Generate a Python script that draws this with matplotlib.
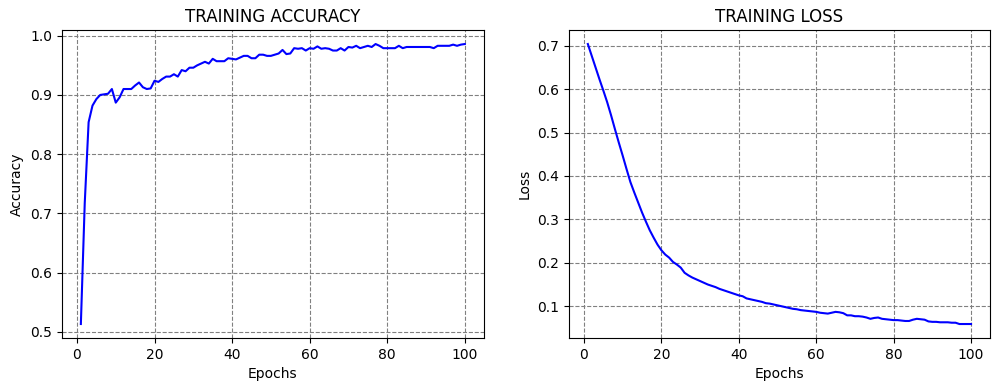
import matplotlib
matplotlib.use("Agg")
import matplotlib.pyplot as plt

epochs = list(range(1, 101))

accuracy = [
    0.513, 0.717, 0.854, 0.882, 0.893, 0.900, 0.901, 0.902, 0.910, 0.887,
    0.896, 0.910, 0.910, 0.910, 0.916, 0.921, 0.913, 0.910, 0.911, 0.924,
    0.922, 0.927, 0.931, 0.931, 0.935, 0.931, 0.942, 0.940, 0.946, 0.946,
    0.950, 0.953, 0.956, 0.953, 0.961, 0.957, 0.957, 0.957, 0.962, 0.961,
    0.960, 0.963, 0.966, 0.966, 0.962, 0.962, 0.968, 0.968, 0.966, 0.966,
    0.968, 0.970, 0.976, 0.969, 0.970, 0.979, 0.978, 0.979, 0.975, 0.979,
    0.978, 0.982, 0.978, 0.979, 0.978, 0.975, 0.975, 0.979, 0.975, 0.981,
    0.980, 0.983, 0.979, 0.981, 0.983, 0.981, 0.986, 0.983, 0.979, 0.979,
    0.979, 0.979, 0.983, 0.979, 0.981, 0.981, 0.981, 0.981, 0.981, 0.981,
    0.981, 0.979, 0.983, 0.983, 0.983, 0.983, 0.985, 0.983, 0.985, 0.986,
]

loss = [
    0.704, 0.677, 0.650, 0.623, 0.597, 0.570, 0.540, 0.508, 0.477, 0.447,
    0.416, 0.386, 0.362, 0.339, 0.316, 0.295, 0.275, 0.258, 0.242, 0.229,
    0.219, 0.212, 0.202, 0.196, 0.189, 0.177, 0.171, 0.166, 0.162, 0.158,
    0.154, 0.150, 0.147, 0.144, 0.140, 0.137, 0.134, 0.131, 0.128, 0.125,
    0.123, 0.118, 0.116, 0.114, 0.112, 0.110, 0.107, 0.106, 0.104, 0.102,
    0.100, 0.098, 0.096, 0.094, 0.093, 0.091, 0.090, 0.089, 0.088, 0.087,
    0.085, 0.084, 0.083, 0.085, 0.087, 0.086, 0.084, 0.079, 0.079, 0.077,
    0.077, 0.076, 0.074, 0.071, 0.073, 0.074, 0.071, 0.070, 0.069, 0.068,
    0.068, 0.067, 0.066, 0.066, 0.069, 0.071, 0.070, 0.069, 0.065, 0.064,
    0.064, 0.063, 0.063, 0.063, 0.062, 0.062, 0.059, 0.059, 0.059, 0.059,
]

fig = plt.figure(figsize=(10.01, 3.91), dpi=100)
ax1 = fig.add_axes([0.0616, 0.1355, 0.4219, 0.7877])
ax2 = fig.add_axes([0.5681, 0.1355, 0.4211, 0.7877])

ax1.plot(epochs, accuracy, color="blue")
ax1.set_title("TRAINING ACCURACY")
ax1.set_xlabel("Epochs")
ax1.set_ylabel("Accuracy")
ax1.grid(True, linestyle="--", color="gray")

ax2.plot(epochs, loss, color="blue")
ax2.set_title("TRAINING LOSS")
ax2.set_xlabel("Epochs")
ax2.set_ylabel("Loss")
ax2.grid(True, linestyle="--", color="gray")

fig.savefig("out.png", dpi=100)
